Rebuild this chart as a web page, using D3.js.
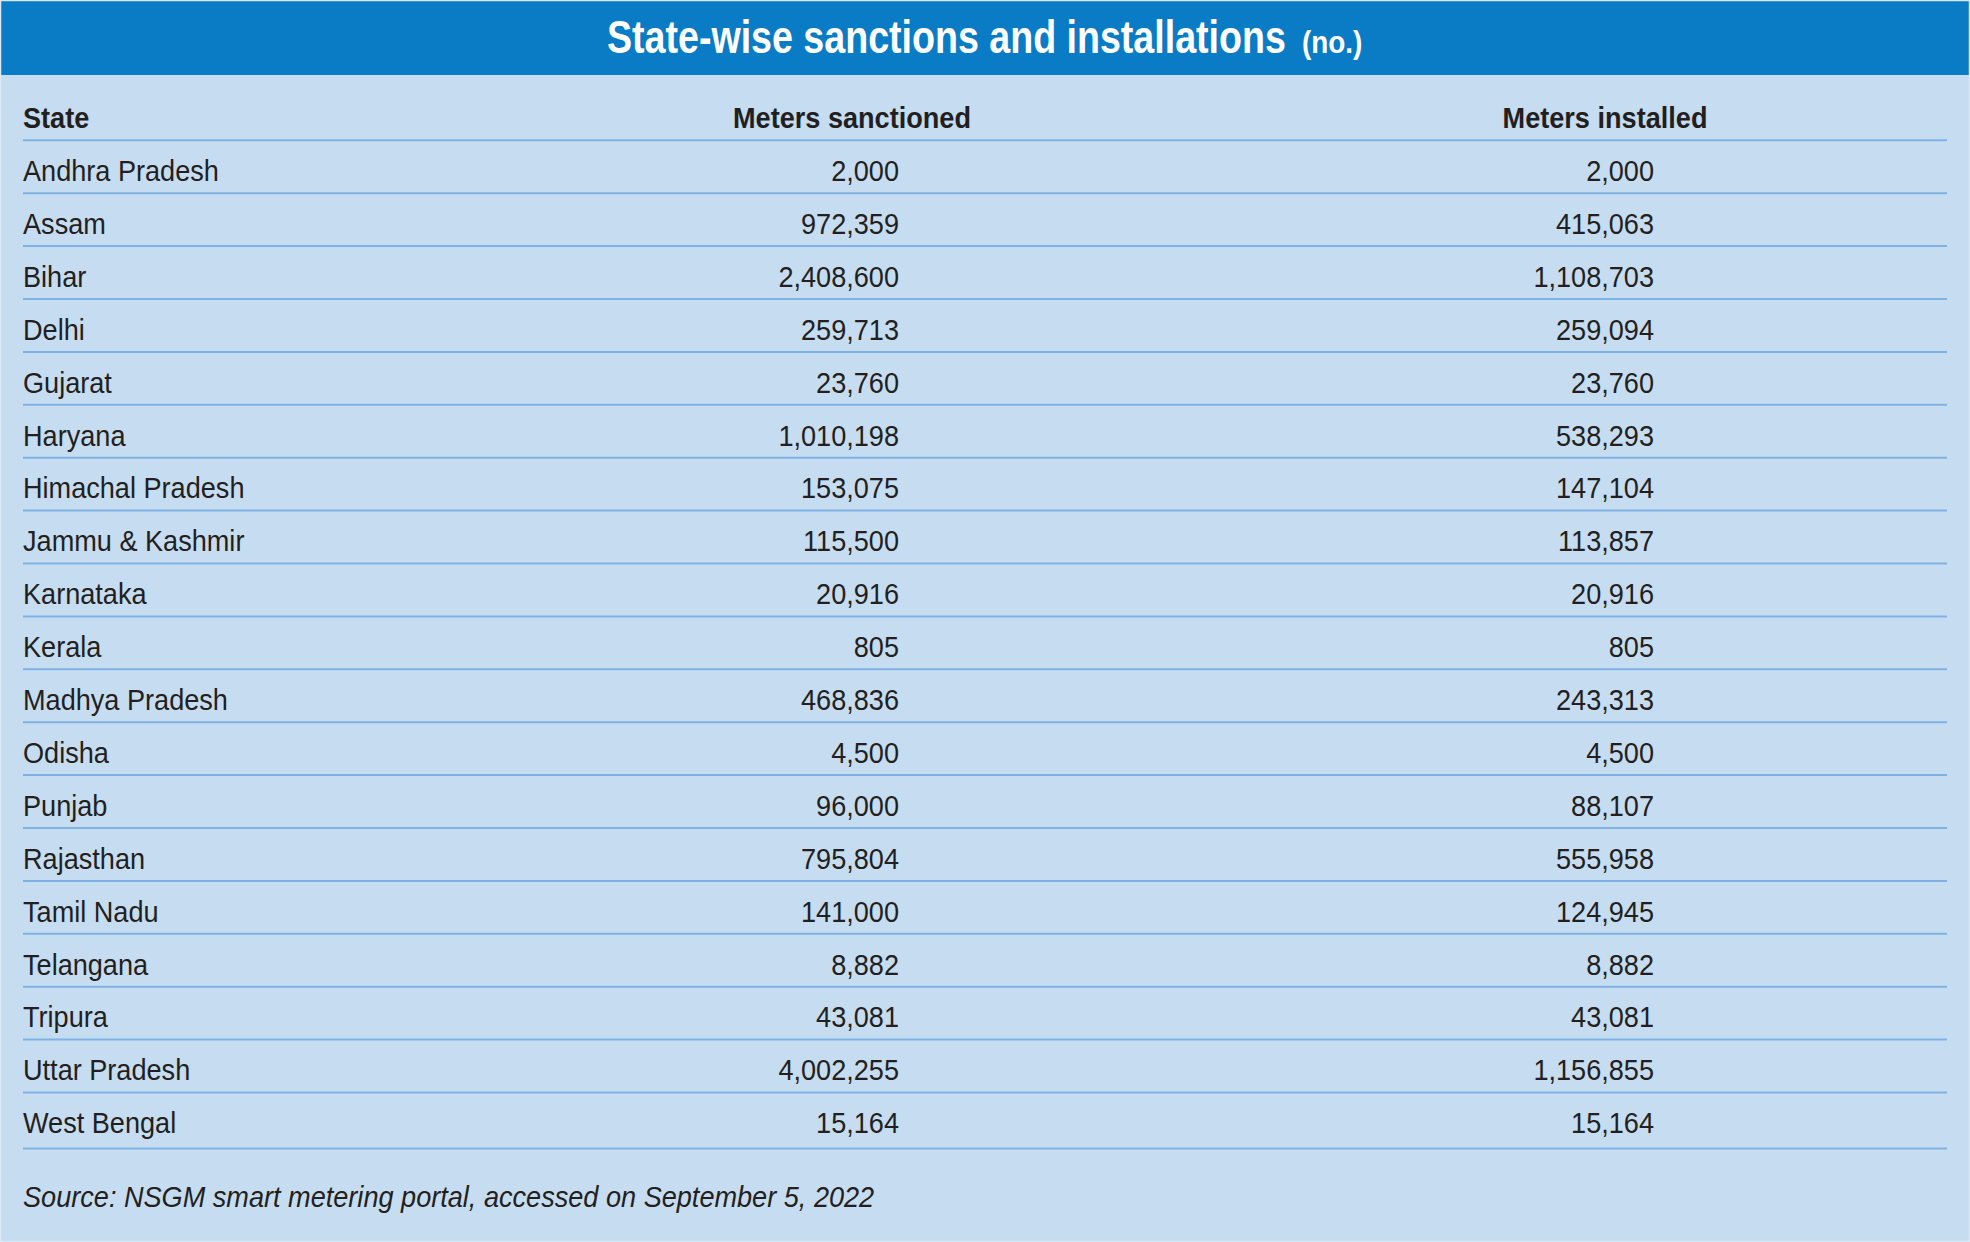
<!DOCTYPE html>
<html>
<head>
<meta charset="utf-8">
<script src="https://cdn.jsdelivr.net/npm/d3@7/dist/d3.min.js"></script>
<style>
  html, body { margin: 0; padding: 0; background: #ffffff; }
  svg { display: block; }
</style>
</head>
<body>
<svg id="chart" width="1970" height="1242"></svg>
<script>
// ---- Data ----
const title = "State-wise sanctions and installations";
const titleUnit = "(no.)";
const columnHeaders = ["State", "Meters sanctioned", "Meters installed"];
const states = [
  "Andhra Pradesh", "Assam", "Bihar", "Delhi", "Gujarat", "Haryana",
  "Himachal Pradesh", "Jammu & Kashmir", "Karnataka", "Kerala",
  "Madhya Pradesh", "Odisha", "Punjab", "Rajasthan", "Tamil Nadu",
  "Telangana", "Tripura", "Uttar Pradesh", "West Bengal"
];
const metersSanctioned = [
  2000, 972359, 2408600, 259713, 23760, 1010198, 153075, 115500, 20916, 805,
  468836, 4500, 96000, 795804, 141000, 8882, 43081, 4002255, 15164
];
const metersInstalled = [
  2000, 415063, 1108703, 259094, 23760, 538293, 147104, 113857, 20916, 805,
  243313, 4500, 88107, 555958, 124945, 8882, 43081, 1156855, 15164
];
const sourceNote = "Source: NSGM smart metering portal, accessed on September 5, 2022";

// ---- Layout ----
const W = 1970, H = 1242;
const svg = d3.select("#chart");
const FONT = "'Liberation Sans', Arial, Helvetica, sans-serif";
const TEXT = "#231f20";
const SX = 0.935; // slight horizontal condensing of body text

// background panel
svg.append("rect").attr("x", 0).attr("y", 0).attr("width", W).attr("height", H)
  .attr("fill", "#c6dcf1");
// title bar
svg.append("rect").attr("x", 0).attr("y", 0).attr("width", W).attr("height", 75)
  .attr("fill", "#0a7cc6");
// thin light border
svg.append("rect").attr("x", 0.5).attr("y", 0.5).attr("width", W - 1).attr("height", H - 1)
  .attr("fill", "none").attr("stroke", "#dbe8f6").attr("stroke-width", 1.5);

// title
svg.append("text")
  .attr("transform", "translate(607,53) scale(0.8,1)")
  .attr("font-family", FONT).attr("font-weight", "bold").attr("font-size", 47)
  .attr("fill", "#ffffff").text(title);
svg.append("text")
  .attr("transform", "translate(1302,53) scale(0.9,1)")
  .attr("font-family", FONT).attr("font-weight", "bold").attr("font-size", 31)
  .attr("fill", "#ffffff").text(titleUnit);

// scales
const y = d3.scaleBand().domain(states).range([140, 140 + 52.9 * states.length])
  .paddingInner(0).paddingOuter(0);
const x = d3.scalePoint().domain(columnHeaders).range([23, 1653]);
const colAnchorX = { "State": 23, "Meters sanctioned": 899, "Meters installed": 1654 };
const headerCenterX = { "Meters sanctioned": 852, "Meters installed": 1605 };
const fmt = d3.format(",");

// header
const hdr = svg.append("g");
columnHeaders.forEach((h, i) => {
  const hx = i === 0 ? colAnchorX[h] : headerCenterX[h];
  hdr.append("text")
    .attr("transform", `translate(${hx},128) scale(${SX},1)`)
    .attr("text-anchor", i === 0 ? "start" : "middle")
    .attr("font-family", FONT).attr("font-weight", "bold").attr("font-size", 29)
    .attr("fill", TEXT).text(h);
});

// lines
const lineColor = "#7fb2e4";
const lineX1 = 23, lineX2 = 1947;
svg.append("line").attr("x1", lineX1).attr("x2", lineX2)
  .attr("y1", 140.3).attr("y2", 140.3)
  .attr("stroke", lineColor).attr("stroke-width", 2);

const rows = svg.append("g").selectAll("g").data(states).join("g");
rows.append("line")
  .attr("x1", lineX1).attr("x2", lineX2)
  .attr("y1", (d, i) => y(d) + y.bandwidth() + (i === states.length - 1 ? 3 : 0) + 0.3)
  .attr("y2", (d, i) => y(d) + y.bandwidth() + (i === states.length - 1 ? 3 : 0) + 0.3)
  .attr("stroke", lineColor).attr("stroke-width", 2);

rows.append("text")
  .attr("transform", d => `translate(${colAnchorX["State"]},${y(d) + 41}) scale(${SX},1)`)
  .attr("font-family", FONT).attr("font-size", 29).attr("fill", TEXT)
  .text(d => d);
rows.append("text")
  .attr("transform", d => `translate(${colAnchorX["Meters sanctioned"]},${y(d) + 41}) scale(${SX},1)`)
  .attr("text-anchor", "end")
  .attr("font-family", FONT).attr("font-size", 29).attr("fill", TEXT)
  .text((d, i) => fmt(metersSanctioned[i]));
rows.append("text")
  .attr("transform", d => `translate(${colAnchorX["Meters installed"]},${y(d) + 41}) scale(${SX},1)`)
  .attr("text-anchor", "end")
  .attr("font-family", FONT).attr("font-size", 29).attr("fill", TEXT)
  .text((d, i) => fmt(metersInstalled[i]));

// source
svg.append("text")
  .attr("transform", `translate(23,1207) scale(${SX},1)`)
  .attr("font-family", FONT).attr("font-style", "italic").attr("font-size", 29)
  .attr("fill", TEXT).text(sourceNote);
</script>
</body>
</html>
